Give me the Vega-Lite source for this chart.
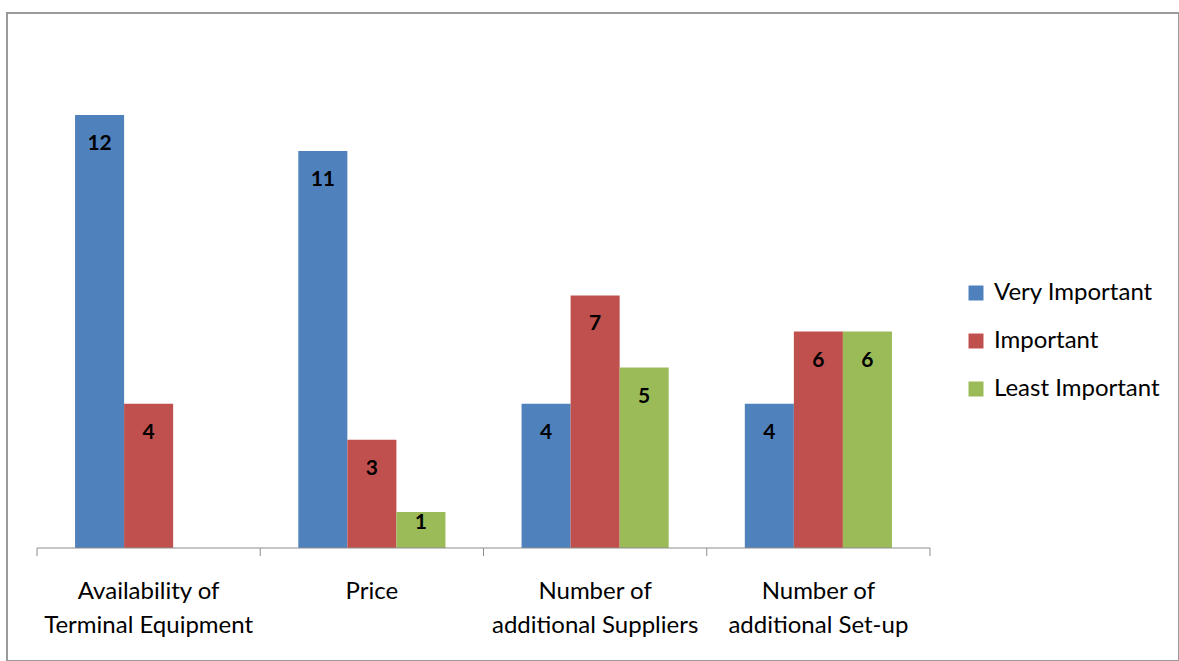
{
  "$schema": "https://vega.github.io/schema/vega-lite/v6.json",
  "autosize": {"type": "none"},
  "width": 1172,
  "height": 648,
  "padding": {"left": 7, "top": 13, "right": 0, "bottom": 0},
  "background": "white",
  "config": {
    "view": {"stroke": "#9a9a9a", "strokeWidth": 2},
    "font": "Lato"
  },
  "datasets": {
    "bars": [
      {"category": "Availability of Terminal Equipment", "series": "Very Important", "value": 12},
      {"category": "Availability of Terminal Equipment", "series": "Important", "value": 4},
      {"category": "Price", "series": "Very Important", "value": 11},
      {"category": "Price", "series": "Important", "value": 3},
      {"category": "Price", "series": "Least Important", "value": 1},
      {"category": "Number of additional Suppliers", "series": "Very Important", "value": 4},
      {"category": "Number of additional Suppliers", "series": "Important", "value": 7},
      {"category": "Number of additional Suppliers", "series": "Least Important", "value": 5},
      {"category": "Number of additional Set-up", "series": "Very Important", "value": 4},
      {"category": "Number of additional Set-up", "series": "Important", "value": 6},
      {"category": "Number of additional Set-up", "series": "Least Important", "value": 6}
    ],
    "cats": [
      {"category": "Availability of Terminal Equipment", "line1": "Availability of", "line2": "Terminal Equipment"},
      {"category": "Price", "line1": "Price", "line2": ""},
      {"category": "Number of additional Suppliers", "line1": "Number of", "line2": "additional Suppliers"},
      {"category": "Number of additional Set-up", "line1": "Number of", "line2": "additional Set-up"}
    ]
  },
  "layer": [
    {
      "data": {"name": "bars"},
      "mark": {"type": "bar"},
      "encoding": {
        "x": {
          "field": "category",
          "type": "nominal",
          "scale": {
            "domain": ["Availability of Terminal Equipment", "Price", "Number of additional Suppliers", "Number of additional Set-up"],
            "paddingInner": 0, "paddingOuter": 0.62486, "align": 0.10753
          },
          "axis": null
        },
        "xOffset": {
          "field": "series",
          "type": "nominal",
          "scale": {"domain": ["Very Important", "Important", "Least Important"], "paddingInner": 0, "paddingOuter": 0.776}
        },
        "y": {
          "field": "value",
          "type": "quantitative",
          "scale": {"domain": [-3.132, 14.828], "nice": false, "zero": false},
          "axis": null
        },
        "color": {
          "field": "series",
          "type": "nominal",
          "scale": {"domain": ["Very Important", "Important", "Least Important"], "range": ["#4F81BD", "#C0504D", "#9BBB59"]},
          "legend": {
            "title": null,
            "orient": "none",
            "legendX": 957,
            "legendY": 268,
            "padding": 0,
            "symbolType": "square",
            "symbolSize": 225,
            "symbolStrokeWidth": 0,
            "symbolOpacity": 1,
            "labelFont": "Lato",
            "labelFontSize": 24,
            "labelColor": "#000000",
            "labelOffset": 6,
            "labelLimit": 0,
            "rowPadding": 24
          }
        }
      }
    },
    {
      "data": {"name": "bars"},
      "transform": [{"filter": "datum.value >= 2"}],
      "mark": {"type": "text", "baseline": "middle", "dy": 29, "fontWeight": "bold", "fontSize": 21, "font": "Lato", "color": "#000000"},
      "encoding": {
        "x": {"field": "category", "type": "nominal", "axis": null},
        "xOffset": {"field": "series", "type": "nominal"},
        "y": {"field": "value", "type": "quantitative", "axis": null},
        "text": {"field": "value", "type": "quantitative"}
      }
    },
    {
      "data": {"name": "bars"},
      "transform": [{"filter": "datum.value < 2"}],
      "mark": {"type": "text", "baseline": "middle", "dy": 11, "fontWeight": "bold", "fontSize": 21, "font": "Lato", "color": "#000000"},
      "encoding": {
        "x": {"field": "category", "type": "nominal", "axis": null},
        "xOffset": {"field": "series", "type": "nominal"},
        "y": {"field": "value", "type": "quantitative", "axis": null},
        "text": {"field": "value", "type": "quantitative"}
      }
    },
    {
      "data": {"name": "cats"},
      "mark": {"type": "rule", "color": "#8c8c8c", "strokeWidth": 1},
      "encoding": {
        "x": {"field": "category", "type": "nominal", "bandPosition": 0, "axis": null},
        "x2": {"field": "category", "bandPosition": 1},
        "y": {"datum": 0, "axis": null}
      }
    },
    {
      "data": {"name": "cats"},
      "mark": {"type": "rule", "color": "#8c8c8c", "strokeWidth": 1},
      "encoding": {
        "x": {"field": "category", "type": "nominal", "bandPosition": 0, "axis": null},
        "y": {"datum": 0, "axis": null},
        "y2": {"datum": -0.222}
      }
    },
    {
      "data": {"name": "cats"},
      "transform": [{"filter": "datum.category == 'Number of additional Set-up'"}],
      "mark": {"type": "rule", "color": "#8c8c8c", "strokeWidth": 1},
      "encoding": {
        "x": {"field": "category", "type": "nominal", "bandPosition": 1, "axis": null},
        "y": {"datum": 0, "axis": null},
        "y2": {"datum": -0.222}
      }
    },
    {
      "data": {"name": "cats"},
      "mark": {"type": "text", "baseline": "middle", "fontSize": 24, "font": "Lato", "color": "#000000"},
      "encoding": {
        "x": {"field": "category", "type": "nominal", "axis": null},
        "y": {"datum": -1.22, "axis": null},
        "text": {"field": "line1"}
      }
    },
    {
      "data": {"name": "cats"},
      "mark": {"type": "text", "baseline": "middle", "fontSize": 24, "font": "Lato", "color": "#000000"},
      "encoding": {
        "x": {"field": "category", "type": "nominal", "axis": null},
        "y": {"datum": -2.16, "axis": null},
        "text": {"field": "line2"}
      }
    }
  ]
}
